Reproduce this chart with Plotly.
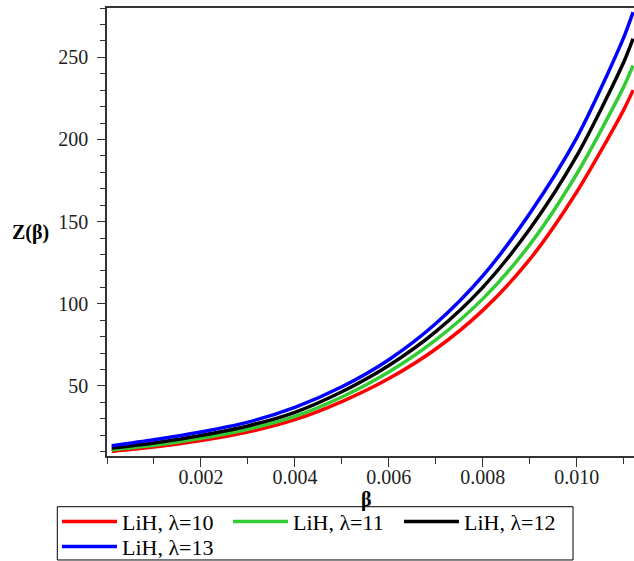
import plotly.graph_objects as go

# beta sample positions
beta = [0.0001, 0.001, 0.002, 0.003, 0.004, 0.005, 0.006, 0.007, 0.008, 0.009, 0.010, 0.011, 0.0112]

# Z(beta) values for each lambda
z_l10 = [10.2, 12.8, 16.8, 22.0, 29.5, 40.5, 54.5, 72.5, 96.0, 127.0, 168.0, 218.0, 230.0]
z_l11 = [11.2, 13.9, 18.2, 23.7, 31.5, 43.3, 58.5, 78.0, 103.0, 136.0, 179.0, 232.0, 245.0]
z_l12 = [12.3, 15.3, 19.9, 25.7, 34.0, 46.5, 62.5, 83.1, 110.0, 145.5, 190.0, 247.0, 261.4]
z_l13 = [13.7, 17.3, 22.0, 28.0, 37.0, 49.5, 66.0, 88.0, 117.0, 155.0, 201.0, 262.0, 277.5]

series_names = ["LiH, λ=10", "LiH, λ=11", "LiH, λ=12", "LiH, λ=13"]
series_vals = [z_l10, z_l11, z_l12, z_l13]
series_colors = ["#FF0000", "#33CC33", "#000000", "#0000FF"]
series_legend_rows = ["legend", "legend", "legend", "legend2"]

x_tickvals = [0.002, 0.004, 0.006, 0.008, 0.010]
x_ticktext = ["0.002", "0.004", "0.006", "0.008", "0.010"]
y_tickvals = [50, 100, 150, 200, 250]
y_ticktext = ["50", "100", "150", "200", "250"]

FONT = "Liberation Serif, Times New Roman, serif"

fig = go.Figure()
for name, vals, col, lg in zip(series_names, series_vals, series_colors, series_legend_rows):
    fig.add_trace(go.Scatter(
        x=beta, y=vals, mode="lines", name=name, legend=lg,
        line=dict(color=col, width=3.5, shape="spline", smoothing=0.8),
    ))

axis_common = dict(
    showline=True, linecolor="#333333", linewidth=1.5, mirror=True,
    showgrid=False, zeroline=False,
    ticks="outside", tickcolor="#333333", tickwidth=1,
    tickfont=dict(family=FONT, size=20, color="#222222"),
)

fig.update_xaxes(
    range=[0, 0.01122], tickvals=x_tickvals, ticktext=x_ticktext, ticklen=9,
    ticklabelstandoff=-7,
    minor=dict(dtick=0.001, tick0=0.001, ticks="outside", ticklen=6, tickcolor="#333333"),
    **axis_common,
)
fig.update_yaxes(
    range=[7.4, 280], tickvals=y_tickvals, ticktext=y_ticktext, ticklen=8,
    ticklabelstandoff=5,
    minor=dict(dtick=10, tick0=0, ticks="outside", ticklen=5, tickcolor="#333333"),
    **axis_common,
)

legend_common = dict(
    orientation="h", x=-0.0949, xanchor="left", yanchor="middle",
    borderwidth=0, bgcolor="rgba(0,0,0,0)",
    font=dict(family=FONT, size=22, color="#000000"),
    itemwidth=55, entrywidth=101, entrywidthmode="pixels",
    tracegroupgap=0,
)

fig.update_layout(
    width=634, height=561,
    margin=dict(l=107, r=0, t=8, b=105, autoexpand=False),
    plot_bgcolor="white", paper_bgcolor="white",
    font=dict(family=FONT, color="#000000"),
    legend=dict(y=-0.1467, **legend_common),
    legend2=dict(y=-0.2025, **legend_common),
    shapes=[
        dict(type="rect", xref="paper", yref="paper",
             x0=-0.0943, x1=0.8843, y0=-0.1132, y1=-0.2321,
             line=dict(color="#000000", width=1), fillcolor="rgba(0,0,0,0)",
             layer="below"),
    ],
    annotations=[
        dict(text="<b>Z(β)</b>", xref="paper", yref="paper",
             x=-0.146, y=0.498, xanchor="center", yanchor="middle",
             showarrow=False, font=dict(family=FONT, size=20, color="#000000")),
        dict(text="<b>β</b>", xref="paper", yref="paper",
             x=0.493, y=-0.096, xanchor="center", yanchor="middle",
             showarrow=False, font=dict(family=FONT, size=20, color="#000000")),
    ],
)

fig.write_html(
    "out.html",
    config={"displayModeBar": False},
    post_script="document.body.style.margin='0';document.body.style.overflow='hidden';",
)
